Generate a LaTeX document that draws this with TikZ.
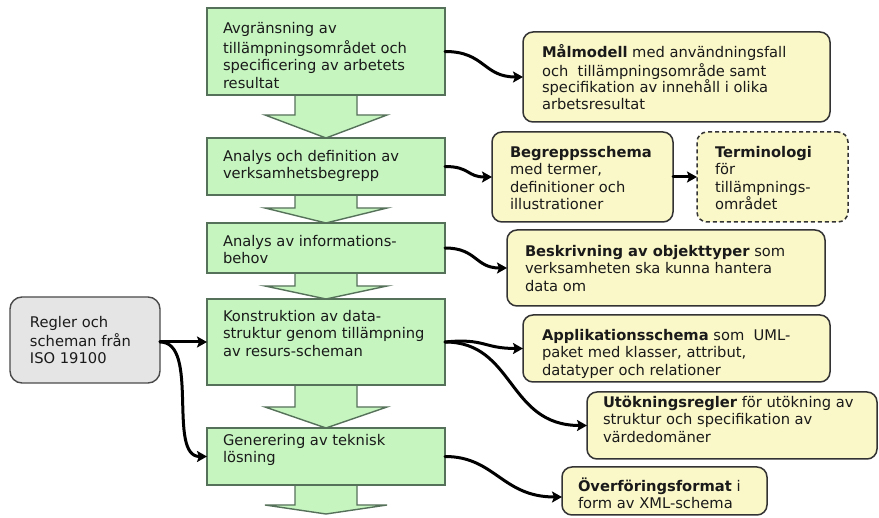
\documentclass[tikz,border=0pt]{standalone}
\usepackage{fontspec}
\setmainfont{DejaVu Sans}
\usetikzlibrary{arrows.meta,calc,backgrounds}

\definecolor{flowfill}{HTML}{C6F5C0}
\definecolor{flowline}{HTML}{56715A}
\definecolor{resfill}{HTML}{FAF7C8}
\definecolor{resline}{HTML}{333333}
\definecolor{infill}{HTML}{E5E5E5}
\definecolor{inline}{HTML}{4A4A4A}
\definecolor{textcol}{HTML}{1A1A1A}

\newcommand\bodyfont{\fontsize{14.7}{17.6}\selectfont}
\newcommand\tightfont{\fontsize{14.7}{16.3}\selectfont}

\tikzset{
  boxbase/.style={inner sep=0pt, outer sep=0pt, line width=1.4pt},
  greenbox/.style={boxbase, draw=flowline, fill=flowfill},
  resultbox/.style={boxbase, draw=resline, fill=resfill, rounded corners=10pt, line width=1.5pt},
  dashedbox/.style={resultbox, dash pattern=on 4pt off 3pt},
  inputbox/.style={boxbase, draw=inline, fill=infill, rounded corners=12pt},
  txt/.style={anchor=north west, inner sep=0pt, outer sep=0pt, align=left,
    font=\bodyfont, text=textcol},
  link/.style={line width=3pt, line cap=round,
    -{Stealth[length=10pt,width=11pt,inset=2pt]}},
  flowarrow/.style={draw=flowline, fill=flowfill, line width=1.4pt, line join=miter},
}

% broad block arrow hanging below a process step: #1 upper step, #2 tip, #3 shaft length
\newcommand\flowstep[3]{%
  \draw[flowarrow] ([xshift=-31pt]#1.south) -- ++(0,#3) -- ++(-30,0) -- (#2)
    -- ($([xshift=31pt]#1.south)+(30,#3)$) -- ++(-30,0) -- ([xshift=31pt]#1.south);
}

\begin{document}
\begin{tikzpicture}[x=1pt,y=-1pt]
\useasboundingbox (0,0) rectangle (879,518);

% process steps
\node[greenbox, minimum width=238pt, minimum height=87pt] (b1) at (326,51.5) {};
\node[greenbox, minimum width=238pt, minimum height=57pt] (b2) at (326,166.5) {};
\node[greenbox, minimum width=238pt, minimum height=50pt] (b3) at (326,248) {};
\node[greenbox, minimum width=238pt, minimum height=86pt] (b4) at (326,342) {};
\node[greenbox, minimum width=238pt, minimum height=57pt] (b5) at (326,456.5) {};
\coordinate (tail) at (326,514);

% input
\node[inputbox, minimum width=150pt, minimum height=86pt] (g) at (85,340) {};

% results
\node[resultbox, minimum width=307pt, minimum height=90pt] (y1) at (676.5,77) {};
\node[resultbox, minimum width=181pt, minimum height=90pt] (y2) at (582.5,177) {};
\node[dashedbox, minimum width=151pt, minimum height=90pt] (y3) at (772.5,177) {};
\node[resultbox, minimum width=318pt, minimum height=76pt] (y4) at (666,268) {};
\node[resultbox, minimum width=307pt, minimum height=67pt] (y5) at (676.5,348.5) {};
\node[resultbox, minimum width=290pt, minimum height=67pt] (y6) at (732,425.5) {};
\node[resultbox, minimum width=205pt, minimum height=48pt] (y7) at (664.5,491) {};

\begin{scope}[on background layer]
  \fill[white] (0,0) rectangle (879,518);
  \flowstep{b1}{b2.north}{20}
  \flowstep{b2}{b3.north}{13}
  \flowstep{b3}{b4.north}{13}
  \flowstep{b4}{b5.north}{22}
  \flowstep{b5}{tail}{20}
\end{scope}

% texts of the process steps
\node[txt] (t1) at (223,21.5) {\strut Avgränsning av\\tillämpningsområdet och\\specificering av arbetets\\resultat};
\node[txt] (t2) at (223,148.7) {\strut Analys och definition av\\verksamhetsbegrepp};
\node[txt] (t3) at (223,233.7) {\strut Analys av informations-\\behov};
\node[txt] (t4) at (223,308.7) {\strut Konstruktion av data-\\struktur genom tillämpning\\av resurs-scheman};
\node[txt] (t5) at (223,432.7) {\strut Generering av teknisk\\lösning};
\node[txt] (tg) at (30,314.7) {\strut Regler och\\scheman från\\ISO 19100};

% texts of the results
\node[txt, font=\tightfont] (ty1) at (542,44.7) {\strut\textbf{Målmodell} med användningsfall\\och~ tillämpningsområde samt\\specifikation av innehåll i olika\\arbetsresultat};
\node[txt] (ty2) at (510,144.7) {\strut\textbf{Begreppsschema}\\med termer,\\definitioner och\\illustrationer};
\node[txt] (ty3) at (715,144.7) {\strut\textbf{Terminologi}\\för\\tillämpnings-\\området};
\node[txt] (ty4) at (525,243.7) {\strut\textbf{Beskrivning av objekttyper} som\\verksamheten ska kunna hantera\\data om};
\node[txt] (ty5) at (542,327.7) {\strut\textbf{Applikationsschema} som~ UML-\\paket med klasser, attribut,\\datatyper och relationer};
\node[txt] (ty6) at (603,394.7) {\strut\textbf{Utökningsregler} för utökning av\\struktur och specifikation av\\värdedomäner};
\node[txt] (ty7) at (578,477.7) {\strut\textbf{Överföringsformat} i\\form av XML-schema};

% connectors
\draw[link] (b1.east) .. controls +(40,0) and +(-40,0) .. (y1.west);
\draw[link] (b2.east) .. controls +(25,0) and +(-25,0) .. (y2.west);
\draw[link] (y2.east) -- (y3.west);
\draw[link] (b3.east) .. controls +(32,0) and +(-32,0) .. (y4.west);
\draw[link] (b4.east) .. controls +(40,-4) and +(-40,0) .. (y5.west);
\draw[link] (b4.east) .. controls +(70,0) and +(-80,0) .. (y6.west);
\draw[link] (b5.east) .. controls +(50,0) and +(-60,0) .. ([yshift=-6pt]y7.west);
\draw[link] (b4.west -| g.east) -- (b4.west);
\draw[link] (b4.west -| g.east) .. controls +(40,0) and +(-40,0) .. (b5.west);
\end{tikzpicture}
\end{document}
